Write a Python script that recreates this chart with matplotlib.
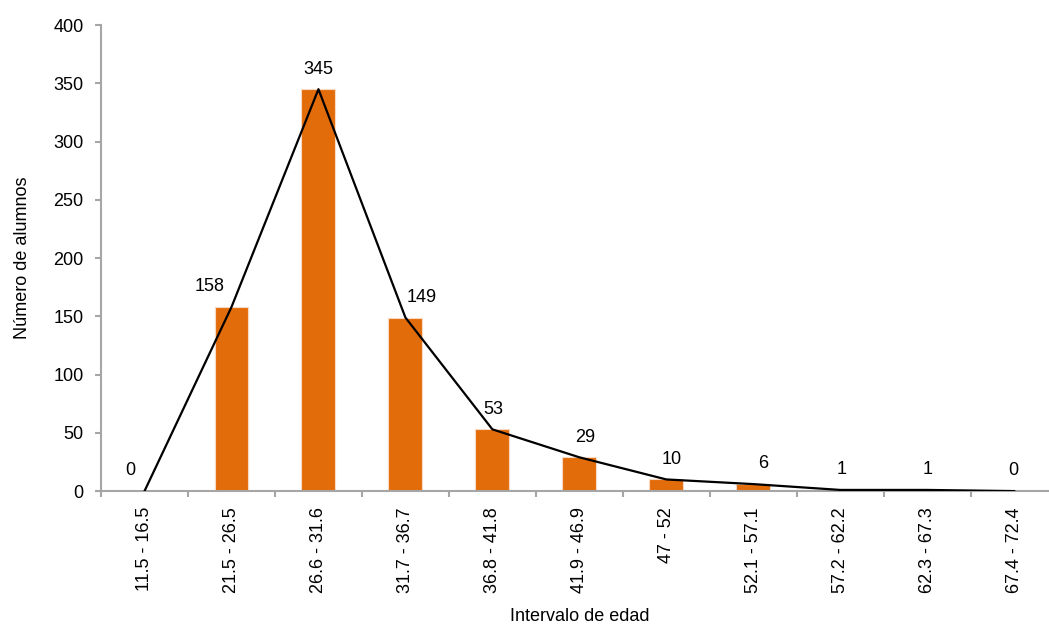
import numpy as np
import matplotlib.pyplot as plt
from matplotlib.ticker import FixedLocator

plt.rcParams['font.family'] = ['Liberation Sans', 'DejaVu Sans']

# age intervals and number of students
intervals = ["11.5 - 16.5", "21.5 - 26.5", "26.6 - 31.6", "31.7 - 36.7",
             "36.8 - 41.8", "41.9 - 46.9", "47 - 52", "52.1 - 57.1",
             "57.2 - 62.2", "62.3 - 67.3", "67.4 - 72.4"]
alumnos = [0, 158, 345, 149, 53, 29, 10, 6, 1, 1, 0]

# horizontal nudge of each value label (points), as placed in the original
label_dx = [-10, -16, 0, 12, 1, 4, 4, 7, 1, 0, -1]

bar_color = "#E36C0A"
axis_gray = "#A6A6A6"
fs = 13

fig = plt.figure(figsize=(10.49, 6.28), dpi=100)
ax = fig.add_axes([0.0963, 0.218, 0.912, 0.742])

x = np.arange(len(intervals))
ax.bar(x, alumnos, width=0.39, color=bar_color, edgecolor="#F9D9C2",
       linewidth=0.8, zorder=2)
ax.plot(x, alumnos, color="black", linewidth=1.6, zorder=3)

for xi, v, dx in zip(x, alumnos, label_dx):
    ax.annotate(str(v), (xi, v), xytext=(dx, 14.5), textcoords="offset points",
                ha="center", va="center", fontsize=fs, color="black")

ax.set_xlim(-0.5, len(intervals) - 0.5)
ax.set_ylim(0, 400)
ax.set_yticks(np.arange(0, 401, 50))

ax.set_xticks(x)
ax.set_xticklabels(intervals, rotation=90, fontsize=fs)
ax.xaxis.set_minor_locator(FixedLocator(np.arange(-0.5, len(intervals), 1)))
ax.tick_params(axis="x", which="major", length=0, pad=11.5)
ax.tick_params(axis="x", which="minor", length=4, width=1.5, color=axis_gray)
ax.tick_params(axis="y", length=4, width=1.5, color=axis_gray, pad=8.5,
               labelsize=fs)

for s in ["top", "right"]:
    ax.spines[s].set_visible(False)
for s in ["left", "bottom"]:
    ax.spines[s].set_color(axis_gray)
    ax.spines[s].set_linewidth(1.5)
ax.spines["left"].set_zorder(1)

ax.set_xlabel("Intervalo de edad", fontsize=fs, labelpad=11)
ax.set_ylabel("Número de alumnos", fontsize=fs, labelpad=16)

fig.savefig("out.png", dpi=100)
